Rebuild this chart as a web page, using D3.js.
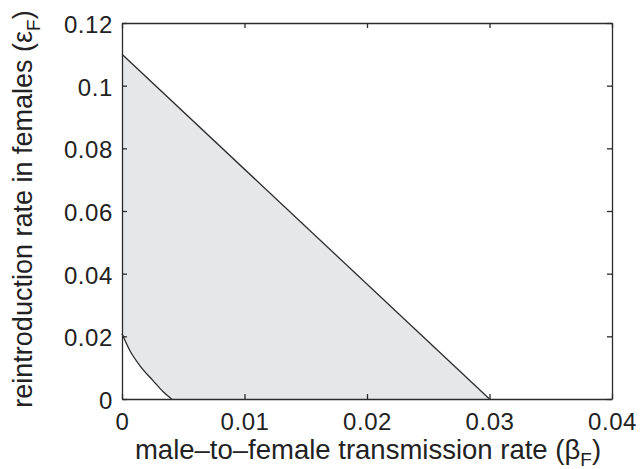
<!DOCTYPE html>
<html><head><meta charset="utf-8">
<script src="https://cdn.jsdelivr.net/npm/d3@7"></script>
<style>body{margin:0;background:#fff}svg{display:block}</style>
</head><body>
<script>
const xTicks = [0, 0.01, 0.02, 0.03, 0.04];
const yTicks = [0, 0.02, 0.04, 0.06, 0.08, 0.1, 0.12];
const xTickLabels = ["0", "0.01", "0.02", "0.03", "0.04"];
const yTickLabels = ["0", "0.02", "0.04", "0.06", "0.08", "0.1", "0.12"];
// upper boundary (straight line)
const lineBeta = [0, 0.03];
const lineEps = [0.11, 0];
// lower boundary (curve)
const curveBeta = [0, 0.00065, 0.00147, 0.00255, 0.00336, 0.00405];
const curveEps = [0.0208, 0.0154, 0.0106, 0.0058, 0.0023, 0];

const W = 642, H = 469;
const m = {left: 122, top: 23, right: 30, bottom: 70};
const svg = d3.select("body").append("svg").attr("width", W).attr("height", H);
const x = d3.scaleLinear().domain([0, 0.04]).range([m.left, W - m.right]);
const y = d3.scaleLinear().domain([0, 0.12]).range([H - m.bottom, m.top]);
const font = "'Liberation Sans', Arial, Helvetica, sans-serif";
const ink = "#2b2b2b";

const upper = lineBeta.map((b, i) => [b, lineEps[i]]);
const lower = curveBeta.map((b, i) => [b, curveEps[i]]);
const poly = upper.concat(lower.slice().reverse());
const lg = d3.line().x(d => x(d[0])).y(d => y(d[1]));
const cg = d3.line().x(d => x(d[0])).y(d => y(d[1])).curve(d3.curveMonotoneX);

svg.append("path").attr("d", lg(poly) + "Z").attr("fill", "#e6e7e9").attr("stroke", "none");
svg.append("path").attr("d", lg(upper)).attr("fill", "none").attr("stroke", ink).attr("stroke-width", 1.3);
svg.append("path").attr("d", cg(lower)).attr("fill", "none").attr("stroke", ink).attr("stroke-width", 1.3);

// axes
const tl = 5;
const axB = svg.append("g").attr("transform", `translate(0,${H - m.bottom})`)
  .call(d3.axisBottom(x).tickValues(xTicks).tickFormat((d, i) => xTickLabels[i]).tickSizeInner(-tl).tickSizeOuter(0).tickPadding(14));
const axT = svg.append("g").attr("transform", `translate(0,${m.top})`)
  .call(d3.axisTop(x).tickValues(xTicks).tickFormat("").tickSizeInner(-tl).tickSizeOuter(0));
const axL = svg.append("g").attr("transform", `translate(${m.left},0)`)
  .call(d3.axisLeft(y).tickValues(yTicks).tickFormat((d, i) => yTickLabels[i]).tickSizeInner(-tl).tickSizeOuter(0).tickPadding(9));
const axR = svg.append("g").attr("transform", `translate(${W - m.right},0)`)
  .call(d3.axisRight(y).tickValues(yTicks).tickFormat("").tickSizeInner(-tl).tickSizeOuter(0));
[axB, axT, axL, axR].forEach(a => {
  a.selectAll("path.domain").attr("stroke", ink).attr("stroke-width", 1.3);
  a.selectAll(".tick line").attr("stroke", ink).attr("stroke-width", 1.3);
  a.selectAll("text").attr("fill", "#222").style("font-family", font).style("font-size", "24px").style("letter-spacing", "0.6px");
});
axB.selectAll("text").attr("dy", "0.71em");
axL.selectAll("text").attr("dy", "0.4em");

// axis labels
const xl = svg.append("text").attr("x", 368).attr("y", 459)
  .attr("text-anchor", "middle").style("font-family", font).style("font-size", "27.5px").attr("fill", "#222");
xl.append("tspan").text("male\u2013to\u2013female transmission rate (\u03b2");
xl.append("tspan").attr("dy", 7).style("font-size", "19px").text("F");
xl.append("tspan").attr("dy", -7).text(")");

const yl = svg.append("text").attr("transform", `translate(32,209) rotate(-90)`)
  .attr("text-anchor", "middle").style("font-family", font).style("font-size", "27px").attr("fill", "#222");
yl.append("tspan").text("reintroduction rate in females (\u03b5");
yl.append("tspan").attr("dy", 8).style("font-size", "19px").text("F");
yl.append("tspan").attr("dy", -8).text(")");
</script>
</body></html>
